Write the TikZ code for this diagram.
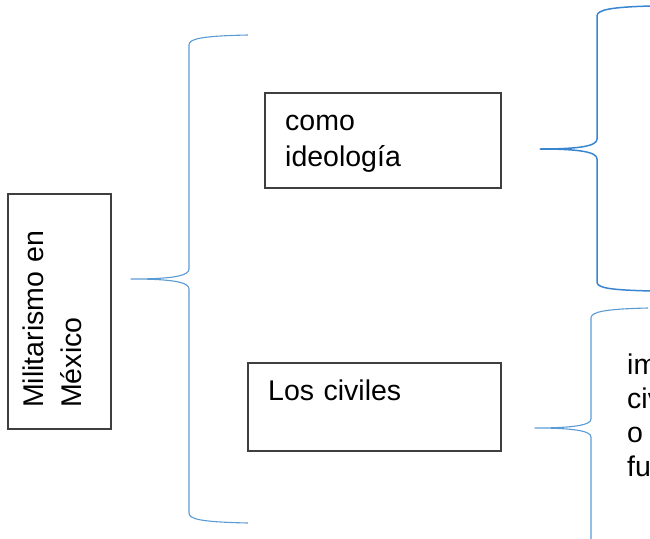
\documentclass[tikz,border=0pt]{standalone}
\usepackage{fontspec}
\setmainfont{Liberation Sans}
\definecolor{boxgray}{HTML}{3F3F3F}
\definecolor{braceblue}{HTML}{5B9BD5}
\definecolor{bracedark}{HTML}{3A85D0}
\begin{document}
\begin{tikzpicture}[x=1pt,y=-1pt,
  box/.style={draw=boxgray, line width=1.5pt, inner sep=0pt, anchor=north west},
  txt/.style={font=\fontsize{28.5}{36.7}\selectfont, inner sep=0pt, align=left, anchor=base west},
  brace/.style={draw=braceblue, line width=1.1pt, line join=round},
  bracestrong/.style={draw=bracedark, line width=1.5pt, line join=round}]
\useasboundingbox (0,0) rectangle (650,538);
% boxes
\node[box, minimum width=103pt, minimum height=235pt] (mil) at (7,193) {};
\node[box, minimum width=236pt, minimum height=95pt] (ideo) at (264,92) {};
\node[box, minimum width=253pt, minimum height=88pt] (civ) at (247,362) {};
% texts
\node[txt, rotate=90, text width=200pt, font=\fontsize{28.5}{38.5}\selectfont] (miltext) at (43,408) {Militarismo en\\México};
\node[txt, text width=200pt] (ideotext) at (285,130) {como\\ideología};
\node[txt, text width=200pt] (civtext) at (268,400) {Los civiles};
\begin{scope}
\clip (520,0) rectangle (650,538);
\node[txt, text width=80pt, font=\fontsize{28.5}{34}\selectfont] (righttext) at (627,374) {im\\civ\\o\\fu};
\end{scope}
% left brace
\coordinate (lt) at (131,279);
\draw[brace] (248,35) .. controls (200,36) and (189,39) .. (189,45) -- (189,269)
  .. controls (189,276) and (172,279) .. (lt)
  .. controls (172,279) and (189,282) .. (189,289) -- (189,513)
  .. controls (189,519) and (200,522) .. (248,523);
% top right brace
\coordinate (rt1) at (540,149);
\draw[bracestrong] (652,6) .. controls (610,7) and (597,10) .. (597,16) -- (597,139)
  .. controls (597,146) and (580,149) .. (rt1)
  .. controls (580,149) and (597,152) .. (597,159) -- (597,282)
  .. controls (597,288) and (610,290) .. (652,291);
% bottom right brace
\coordinate (rt2) at (535,428);
\draw[brace] (648,308) .. controls (604,309) and (591,312) .. (591,318) -- (591,419)
  .. controls (591,425) and (574,428) .. (rt2)
  .. controls (574,428) and (591,431) .. (591,437) -- (591,540);
\end{tikzpicture}
\end{document}
